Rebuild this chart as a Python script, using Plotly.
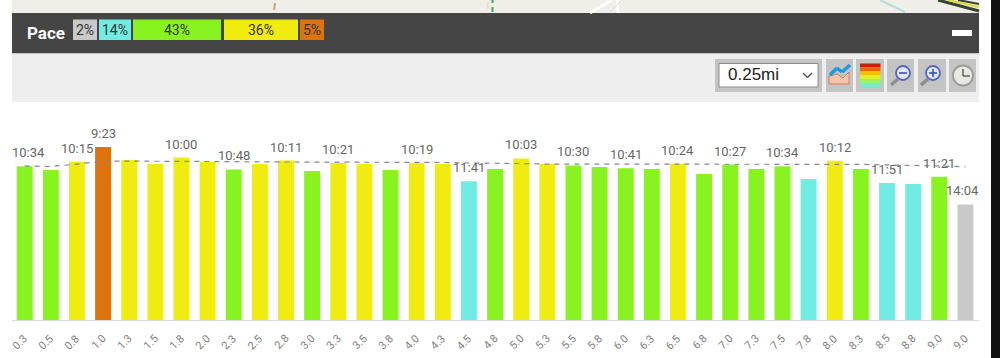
import plotly.graph_objects as go

# ---- data ----
mile_labels = ["0.3","0.5","0.8","1.0","1.3","1.5","1.8","2.0","2.3","2.5","2.8","3.0","3.3","3.5","3.8","4.0","4.3","4.5","4.8",
               "5.0","5.3","5.5","5.8","6.0","6.3","6.5","6.8","7.0","7.3","7.5","7.8","8.0","8.3","8.5","8.8","9.0","9.0"]
speed_mph = [5.68,5.54,5.85,6.39,5.91,5.76,6.00,5.84,5.56,5.76,5.89,5.50,5.80,5.76,5.54,5.81,5.76,5.13,5.58,
             5.97,5.76,5.71,5.65,5.61,5.58,5.77,5.39,5.74,5.58,5.68,5.21,5.88,5.58,5.06,5.02,5.29,4.27]
avg_mph = [5.69,5.67,5.76,5.87,5.87,5.87,5.87,5.87,5.85,5.84,5.84,5.84,5.82,5.82,5.82,5.82,5.82,5.80,5.80,
           5.78,5.76,5.76,5.76,5.76,5.76,5.76,5.76,5.76,5.76,5.76,5.76,5.76,5.75,5.73,5.72,5.69,5.66]
zone_of_bar = ["g","g","y","o","y","y","y","y","g","y","y","g","y","y","g","y","y","c","g",
               "y","y","g","g","g","g","y","g","g","g","g","c","y","g","c","c","g","s"]
zone_colors = {"s":"#c9c9c9","c":"#70ece2","g":"#88f321","y":"#f1ec10","o":"#dc730c"}
pace_labels = {0:"10:34",2:"10:15",3:"9:23",6:"10:00",8:"10:48",10:"10:11",12:"10:21",15:"10:19",17:"11:41",19:"10:03",
               21:"10:30",23:"10:41",25:"10:24",27:"10:27",29:"10:34",31:"10:12",33:"11:51",35:"11:21",36:"14:04"}
zone_names = ["2%","14%","43%","36%","5%"]
zone_order = ["s","c","g","y","o"]
zone_spans = [(73,97),(99,131),(133,221),(224,298),(300,324)]

W, H = 1000, 358
PX = lambda v: v / W
PY = lambda v: 1 - v / H
FONT = "Roboto, Arial, sans-serif"

def rect(x0, y0, x1, y1, fill, line=None, lw=0, layer="below"):
    return dict(type="rect", xref="paper", yref="paper", x0=PX(x0), x1=PX(x1), y0=PY(y1), y1=PY(y0),
                fillcolor=fill, line=dict(color=line or fill, width=lw), layer=layer)

def seg(x0, y0, x1, y1, color, w=1.5):
    return dict(type="line", xref="paper", yref="paper", x0=PX(x0), x1=PX(x1), y0=PY(y0), y1=PY(y1),
                line=dict(color=color, width=w), layer="below")

def circ(cx, cy, r, fill, line, w=1.5):
    return dict(type="circle", xref="paper", yref="paper", x0=PX(cx-r), x1=PX(cx+r), y0=PY(cy+r), y1=PY(cy-r),
                fillcolor=fill, line=dict(color=line, width=w), layer="below")

def poly(points, fill, line="rgba(0,0,0,0)", w=0):
    path = "M " + " L ".join(f"{PX(x)},{PY(y)}" for x, y in points) + " Z"
    return dict(type="path", xref="paper", yref="paper", path=path, fillcolor=fill,
                line=dict(color=line, width=w), layer="below")

shapes = [
    rect(12, 0, 979, 13, "#f0eee8"),
    rect(991, 0, 1000, 358, "#111111"),
    rect(12, 13, 979, 53.5, "#454545"),
    rect(12, 53.5, 979, 102, "#eeeeee"),
    rect(952, 30, 972, 36, "#ffffff"),
    # map fragments
    seg(275, 3, 274, 10, "#c9a77e", 2),
    seg(492.5, 0, 492.5, 3, "#3ea35b", 2), seg(492.5, 7, 492.5, 12, "#3ea35b", 2),
    seg(488, 2, 488, 9, "#f0c8b8", 1),
    seg(590, 13, 612, 0, "#ffffff", 3), seg(618, 13, 617, 0, "#ffffff", 3), seg(610, 12, 620, 2, "#d8d8d8", 1),
    seg(880, 0, 905, 12, "#b6dbe0", 2),
    seg(938, 0, 979, 11, "#39442f", 3), seg(948, 0, 979, 7, "#d9dc3a", 2), seg(958, 0, 979, 4, "#39442f", 2),
    # control bar
    rect(715, 59, 822, 92, "#c4c4c4"),
    rect(719, 63.5, 818, 87, "#ffffff", "#8c8c8c", 1),
    seg(803, 73, 807.5, 77.5, "#444444", 1.2), seg(807.5, 77.5, 812, 73, "#444444", 1.2),
]
for x0, x1 in [(826, 853), (856, 884), (887, 914), (918, 946), (949, 976)]:
    shapes.append(rect(x0, 59, x1, 92, "#c4c4c4"))
# chart icon
shapes += [poly([(829,84),(829,76),(837,74),(843,78),(849,72),(849,84)], "#f6c5a8", "#c97f66", 1),
           seg(830, 75, 837, 68, "#1c9be0", 3.5), seg(837, 68, 842, 72, "#1c9be0", 3.5), seg(842, 72, 850, 65, "#1c9be0", 3.5)]
# heat icon
for i, c in enumerate(["#c81f0a","#e86a00","#f3c20a","#dff02a","#9cf06a","#78ecc8"]):
    shapes.append(rect(860, 63.5 + i*3.9, 880.5, 63.5 + (i+1)*3.9, c))
# zoom icons
for cx, cy, plus in [(903, 73, False), (933, 73, True)]:
    shapes += [seg(cx-12, cy+12, cx-5, cy+6, "#8d8d8d", 3.5),
               circ(cx, cy, 7, "#dfe6f5", "#5566c0", 1.8),
               seg(cx-4, cy, cx+4, cy, "#3c4fb5", 1.6)]
    if plus:
        shapes.append(seg(cx, cy-4, cx, cy+4, "#3c4fb5", 1.6))
# clock icon
shapes += [circ(963, 75.5, 10, "#e8e8e2", "#9a9a9a", 1.8),
           seg(963, 69, 963, 76, "#555555", 1.4), seg(963, 76, 970, 76, "#555555", 1.4)]
# axis line and zone pills
shapes.append(rect(12, 320, 979, 321, "#d8dbe4"))
for (x0, x1), key in zip(zone_spans, zone_order):
    shapes.append(rect(x0, 19.5, x1, 40, zone_colors[key]))

annotations = [dict(text="<b>Pace</b>", xref="paper", yref="paper", x=PX(25), y=PY(33), xanchor="left", yanchor="middle",
                    showarrow=False, font=dict(family=FONT, size=17, color="#ffffff")),
               dict(text="0.25mi", xref="paper", yref="paper", x=PX(725.5), y=PY(75), xanchor="left", yanchor="middle",
                    showarrow=False, font=dict(family="Liberation Sans, Arial, sans-serif", size=17, color="#222222"))]
for (x0, x1), name in zip(zone_spans, zone_names):
    annotations.append(dict(text=name, xref="paper", yref="paper", x=PX((x0+x1)/2), y=PY(30), xanchor="center", yanchor="middle",
                            showarrow=False, font=dict(family=FONT, size=14, color="#333333")))
for i, text in pace_labels.items():
    shift = {0: 3.5, 36: -2.5}.get(i, 0)
    annotations.append(dict(text=text, x=i, y=speed_mph[i], xref="x", yref="y", showarrow=False, xanchor="center", yanchor="middle",
                            xshift=shift, yshift=13.5, font=dict(family=FONT, size=13, color="#666666")))
x_idx = list(range(len(mile_labels)))
for i, text in zip(x_idx, mile_labels):
    annotations.append(dict(text=text, x=i, y=0, xref="x", yref="y", showarrow=False, xanchor="center", yanchor="middle",
                            textangle=-45, xshift=-5, yshift=-22, font=dict(family=FONT, size=11, color="#808080")))

fig = go.Figure()
fig.add_bar(x=x_idx, y=speed_mph, width=0.61, marker=dict(color=[zone_colors[z] for z in zone_of_bar], line=dict(width=0)),
            hoverinfo="skip")
fig.add_scatter(x=x_idx, y=avg_mph, mode="lines", line=dict(color="#85859a", width=1.2, dash="5px,5px"), hoverinfo="skip")
fig.update_layout(
    width=W, height=H, autosize=False, margin=dict(l=0, r=0, t=0, b=0), showlegend=False,
    paper_bgcolor="#ffffff", plot_bgcolor="rgba(0,0,0,0)", shapes=shapes, annotations=annotations,
    xaxis=dict(domain=[PX(12), PX(979)], range=[-0.486, 36.52], showticklabels=False, ticks="", showgrid=False,
               zeroline=False, showline=False),
    yaxis=dict(domain=[PY(320), PY(102)], range=[0, 218/27.07], visible=False),
)
fig.write_html("out.html", config=dict(displayModeBar=False),
               post_script="document.documentElement.style.margin='0';document.body.style.margin='0';document.body.style.overflow='hidden';")
